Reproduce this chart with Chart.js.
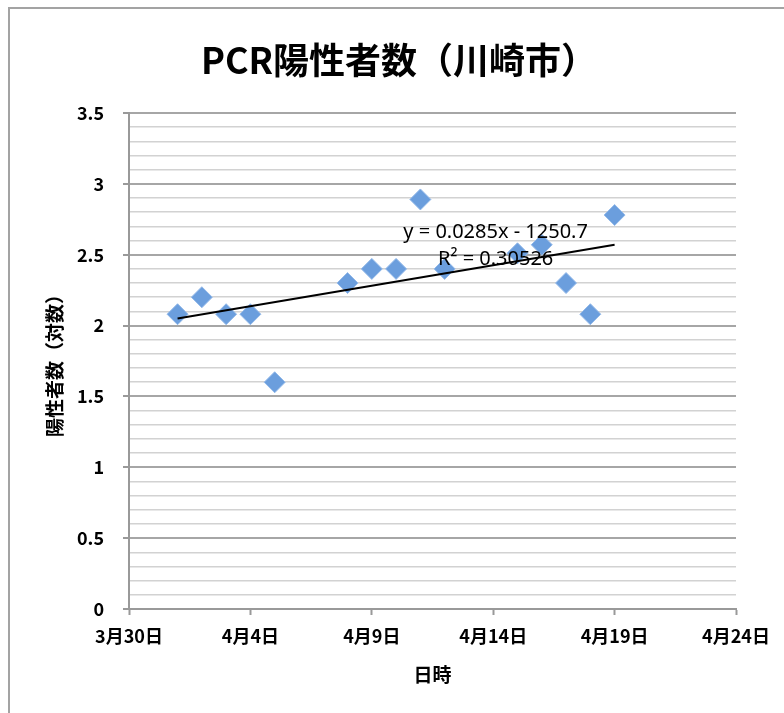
<!DOCTYPE html>
<html>
<head>
<meta charset="utf-8">
<script src="https://cdn.jsdelivr.net/npm/chart.js@4"></script>
<style>
  html, body { margin: 0; padding: 0; background: #fff; overflow: hidden; }
  #wrap { position: relative; width: 784px; height: 713px; }
  #frame { position: absolute; left: 8px; top: 7px; width: 800px; height: 730px; border: 2px solid #a3a3a3; box-sizing: border-box; pointer-events: none; }
  canvas { position: absolute; left: 0; top: 0; }
</style>
</head>
<body>
<div id="wrap">
  <canvas id="kawasakiChart" width="784" height="713"></canvas>
  <div id="frame"></div>
</div>
<script>
// days are counted from 3/30
const startDate = new Date(2020, 2, 30);
const dates = ['2020-04-01', '2020-04-02', '2020-04-03', '2020-04-04', '2020-04-05',
  '2020-04-08', '2020-04-09', '2020-04-10', '2020-04-11', '2020-04-12',
  '2020-04-15', '2020-04-16', '2020-04-17', '2020-04-18', '2020-04-19'];
const logPositives = [2.08, 2.20, 2.08, 2.08, 1.60,
  2.30, 2.40, 2.40, 2.89, 2.40,
  2.51, 2.57, 2.30, 2.08, 2.78];

const tickLabels = ['3月30日', '4月4日', '4月9日', '4月14日', '4月19日', '4月24日'];

// trendline ends
const trendDates = ['2020-04-01', '2020-04-19'];
const trendValues = [2.05, 2.57];
const trendText = ['y = 0.0285x - 1250.7', 'R² = 0.30526'];

function dayOf(str) {
  const p = str.split('-').map(Number);
  const d = new Date(p[0], p[1] - 1, p[2]);
  return Math.round((d - startDate) / 86400000);
}

const points = dates.map((d, i) => ({ x: dayOf(d), y: logPositives[i] }));
const trendPoints = trendDates.map((d, i) => ({ x: dayOf(d), y: trendValues[i] }));

const cjk = "'Noto Sans CJK JP', 'Noto Sans', sans-serif";

function isMajor(v) {
  return Math.abs(v * 2 - Math.round(v * 2)) < 1e-6;
}

// title and trendline label, drawn by hand
const extraText = {
  id: 'extraText',
  afterDatasetsDraw(chart) {
    const ctx = chart.ctx;
    const xs = chart.scales.x, ys = chart.scales.y;
    ctx.save();
    ctx.fillStyle = '#000';
    ctx.textAlign = 'center';
    ctx.textBaseline = 'middle';
    ctx.font = "20px 'Noto Sans', sans-serif";
    ctx.fillText(trendText[0], xs.getPixelForValue(15.1), ys.getPixelForValue(2.66));
    ctx.fillText(trendText[1], xs.getPixelForValue(15.1), ys.getPixelForValue(2.47));
    ctx.font = "bold 36px " + cjk;
    ctx.fillText('PCR陽性者数（川崎市）', 399, 60);
    ctx.restore();
  }
};

const ctx = document.getElementById('kawasakiChart').getContext('2d');
new Chart(ctx, {
  type: 'scatter',
  data: {
    datasets: [{
      type: 'line',
      label: 'trend',
      data: trendPoints,
      borderColor: '#000',
      borderWidth: 2,
      pointRadius: 0,
      fill: false,
      order: 0
    }, {
      label: '陽性者数',
      data: points,
      pointStyle: 'rectRot',
      pointRadius: 10.5,
      pointHoverRadius: 10.5,
      backgroundColor: '#6b9edd',
      borderColor: '#93b9e9',
      borderWidth: 1,
      order: 1
    }]
  },
  options: {
    responsive: false,
    animation: false,
    layout: { padding: { top: 113, right: 48, left: 0, bottom: 0 } },
    plugins: {
      legend: { display: false },
      tooltip: { enabled: false },
      title: { display: false }
    },
    scales: {
      x: {
        type: 'linear',
        min: 0,
        max: 25,
        afterFit: (scale) => { scale.height = 104; },
        ticks: {
          stepSize: 5,
          padding: 10,
          color: '#000',
          font: { family: cjk, size: 18, weight: 'bold' },
          callback: (v) => tickLabels[v / 5]
        },
        grid: {
          drawOnChartArea: false,
          drawTicks: true,
          tickLength: 6,
          tickWidth: 2,
          tickColor: '#999'
        },
        border: { display: true, color: '#999', width: 2 },
        title: {
          display: true,
          text: '日時',
          color: '#000',
          font: { family: cjk, size: 19, weight: 'bold' },
          padding: { top: 0, bottom: 27 }
        }
      },
      y: {
        min: 0,
        max: 3.5,
        afterFit: (scale) => { scale.width = 129; },
        afterBuildTicks: (scale) => {
          scale.ticks = [];
          for (let i = 0; i <= 35; i++) scale.ticks.push({ value: i / 10 });
        },
        ticks: {
          autoSkip: false,
          padding: 19,
          color: '#000',
          font: { family: cjk, size: 18, weight: 'bold' },
          callback: (v) => isMajor(v) ? String(Math.round(v * 10) / 10) : ''
        },
        grid: {
          drawTicks: true,
          tickLength: 6,
          color: (c) => isMajor(c.tick.value) ? '#a6a6a6' : '#d2d2d2',
          lineWidth: (c) => isMajor(c.tick.value) ? 2 : 1.6,
          tickColor: (c) => isMajor(c.tick.value) ? '#999' : 'rgba(0,0,0,0)',
          tickWidth: 2
        },
        border: { display: true, color: '#999', width: 2 },
        title: {
          display: true,
          text: '陽性者数（対数）',
          color: '#000',
          font: { family: cjk, size: 19, weight: 'bold' },
          padding: { top: 43, bottom: 0 }
        }
      }
    }
  },
  plugins: [extraText]
});
</script>
</body>
</html>
